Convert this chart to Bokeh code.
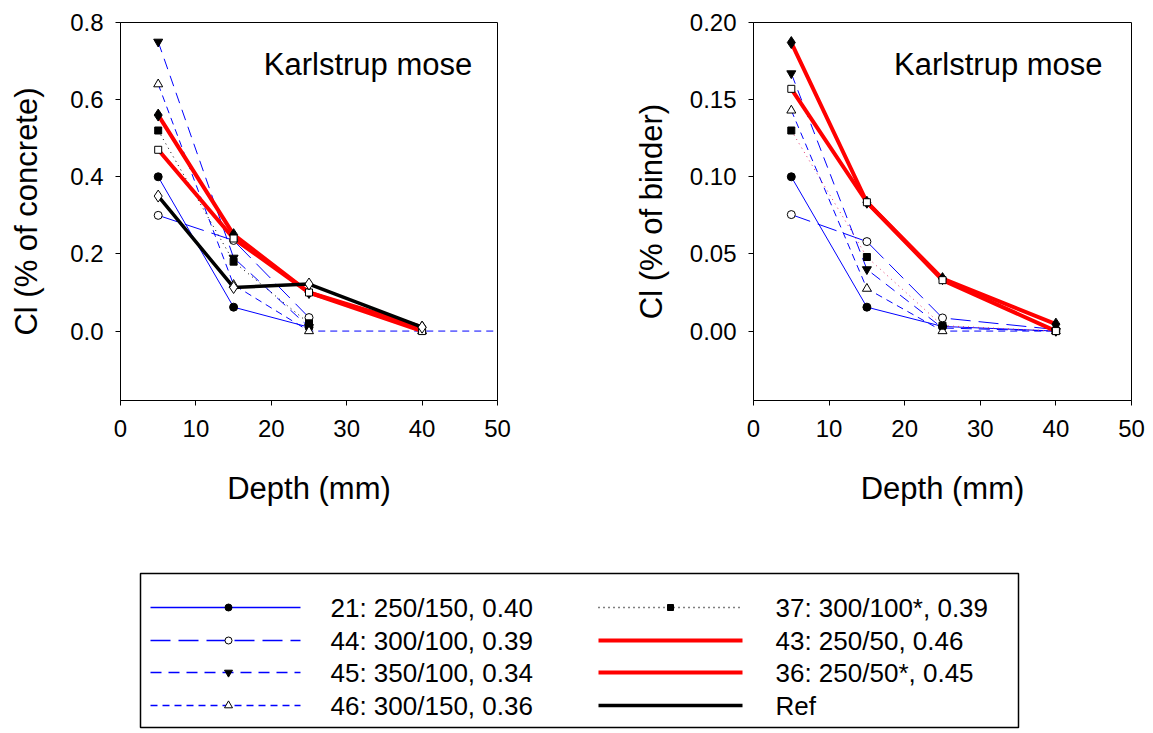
from bokeh.plotting import figure
from bokeh.layouts import column, row
from bokeh.models import FixedTicker, PrintfTickFormatter, Range1d, Label
from bokeh.embed import file_html
from bokeh.resources import INLINE
from bokeh.core.properties import value

FONT = "Liberation Sans"

# ---------------- data ----------------
series_keys = ["21", "44", "45", "46", "37", "43", "36", "Ref"]
legend_labels = ["21: 250/150, 0.40", "44: 300/100, 0.39", "45: 350/100, 0.34",
                 "46: 300/150, 0.36", "37: 300/100*, 0.39", "43: 250/50, 0.46",
                 "36: 250/50*, 0.45", "Ref"]

depth_3 = [5, 15, 25]
depth_4 = [5, 15, 25, 40]
depth_ext = [5, 15, 25, 40, 60]

# Cl (% of concrete)
conc_21 = [0.40, 0.062, 0.01]
conc_44 = [0.30, 0.235, 0.035]
conc_45 = [0.75, 0.19, 0.01]
conc_46 = [0.64, 0.12, 0.0, 0.0, 0.0]
conc_37 = [0.52, 0.18, 0.02]
conc_43 = [0.56, 0.25, 0.10, 0.01]
conc_36 = [0.47, 0.24, 0.10, 0.0]
conc_ref = [0.35, 0.113, 0.122, 0.01]

# Cl (% of binder)
bind_21 = [0.100, 0.0155, 0.003, 0.0]
bind_44 = [0.0755, 0.058, 0.0085, 0.001]
bind_45 = [0.167, 0.040, 0.002, 0.0]
bind_46 = [0.143, 0.0275, 0.0, 0.0]
bind_37 = [0.130, 0.048, 0.0035, 0.0]
bind_43 = [0.187, 0.0835, 0.034, 0.0045]
bind_36 = [0.157, 0.0835, 0.033, 0.0]

concrete = {
    "21": (depth_3, conc_21), "44": (depth_3, conc_44), "45": (depth_3, conc_45),
    "46": (depth_ext, conc_46), "37": (depth_3, conc_37), "43": (depth_4, conc_43),
    "36": (depth_4, conc_36), "Ref": (depth_4, conc_ref),
}
binder = {
    "21": (depth_4, bind_21), "44": (depth_4, bind_44), "45": (depth_4, bind_45),
    "46": (depth_4, bind_46), "37": (depth_4, bind_37), "43": (depth_4, bind_43),
    "36": (depth_4, bind_36),
}

x_ticks = [0, 10, 20, 30, 40, 50]
conc_ticks = [0.0, 0.2, 0.4, 0.6, 0.8]
bind_ticks = [0.0, 0.05, 0.10, 0.15, 0.20]

# ---------------- styles ----------------
# color, width, dash, marker, fill, size
styles = {
    "21": ("#0000ff", 1, "solid", "circle", "black", 8),
    "44": ("#0000ff", 1, "20 8", "circle", "white", 8),
    "45": ("#0000ff", 1, "11 7", "inverted_triangle", "black", 9),
    "46": ("#0000ff", 1, "7 5", "triangle", "white", 9),
    "37": ("black", 1, "1 4", "square", "black", 7),
    "43": ("#ff0000", 4, "solid", "diamond", "black", 12),
    "36": ("#ff0000", 4, "solid", "square", "white", 7),
    "Ref": ("black", 3.5, "solid", "diamond", "white", 12),
}


def make_panel(data, ylabel, yrange, yticks, fmt, width, bl, br, label_x, label_y,
               standoff, dotted_color):
    p = figure(width=width, height=510, x_range=Range1d(0, 50),
               y_range=Range1d(*yrange), output_backend="svg", toolbar_location=None,
               min_border_left=bl, min_border_right=br, min_border_top=22,
               min_border_bottom=110)
    p.grid.visible = False
    p.outline_line_color = "black"
    p.outline_line_width = 1
    p.xaxis.ticker = FixedTicker(ticks=x_ticks)
    p.yaxis.ticker = FixedTicker(ticks=yticks)
    p.yaxis.formatter = PrintfTickFormatter(format=fmt)
    for ax in (p.xaxis[0], p.yaxis[0]):
        ax.major_tick_in = 0
        ax.major_tick_out = 5
        ax.minor_tick_in = 0
        ax.minor_tick_out = 0
        ax.axis_line_color = "black"
        ax.major_tick_line_color = "black"
        ax.major_label_text_font = FONT
        ax.major_label_text_font_size = "24px"
        ax.major_label_text_color = "black"
        ax.axis_label_text_font = FONT
        ax.axis_label_text_font_size = "31px"
        ax.axis_label_text_font_style = "normal"
        ax.axis_label_text_color = "black"
    p.xaxis.major_label_standoff = 14
    p.yaxis.major_label_standoff = 12
    p.xaxis.axis_label = "Depth (mm)"
    p.yaxis.axis_label = ylabel
    p.xaxis.axis_label_standoff = 31
    p.yaxis.axis_label_standoff = standoff

    for k in series_keys:
        if k not in data:
            continue
        xs, ys = data[k]
        c, w, d, m, f, s = styles[k]
        if k == "37":
            c = dotted_color
        p.line(xs, ys, line_color=c, line_width=w, line_dash=d)
    for k in series_keys:
        if k not in data:
            continue
        xs, ys = data[k]
        c, w, d, m, f, s = styles[k]
        p.scatter(xs, ys, marker=m, size=s, fill_color=f, line_color="black",
                  line_width=1)

    p.add_layout(Label(x=label_x, y=label_y, text="Karlstrup mose", text_font=FONT,
                       text_font_size="31px", text_color="black",
                       text_baseline="alphabetic"))
    return p


p1 = make_panel(concrete, "Cl (% of concrete)", (-0.18, 0.80), conc_ticks, "%.1f",
                626, 120, 129, 19.0, 0.692, 23, "black")
p2 = make_panel(binder, "Cl (% of binder)", (-0.045, 0.20), bind_ticks, "%.2f",
                524, 127, 19, 18.6, 0.1729, 18, "#e0306a")

# ---------------- legend ----------------
lg = figure(width=1150, height=220, x_range=Range1d(0, 1150), y_range=Range1d(0, 220),
            output_backend="svg", toolbar_location=None, min_border=0,
            x_axis_type=None, y_axis_type=None)
lg.grid.visible = False
lg.outline_line_color = None
lg.quad(left=[140], right=[1018], top=[157], bottom=[3], fill_color=None,
        line_color="black", line_width=1.5)

row_y = [123, 90, 58, 25]
cols = [(150, 300, 228, 330), (598, 742, 670, 775)]
tx, ty = [], []
for i, k in enumerate(series_keys):
    x0, x1, xm, xt = cols[i // 4]
    y = row_y[i % 4]
    c, w, d, m, f, s = styles[k]
    lw = 1.6 if w == 1 else w
    lg.line([x0, x1], [y, y], line_color=c, line_width=lw, line_dash=d)
    if k not in ("43", "36", "Ref"):
        lg.scatter([xm], [y], marker=m, size=s - 1, fill_color=f, line_color="black")
    tx.append(xt)
    ty.append(y)
lg.text(x=tx, y=ty, text=legend_labels, text_font=value(FONT),
        text_font_size=value("26px"), text_baseline="middle", text_align="left",
        text_color="black")

layout = column(row(p1, p2), lg)
open("out.html", "w").write(file_html(layout, INLINE))
